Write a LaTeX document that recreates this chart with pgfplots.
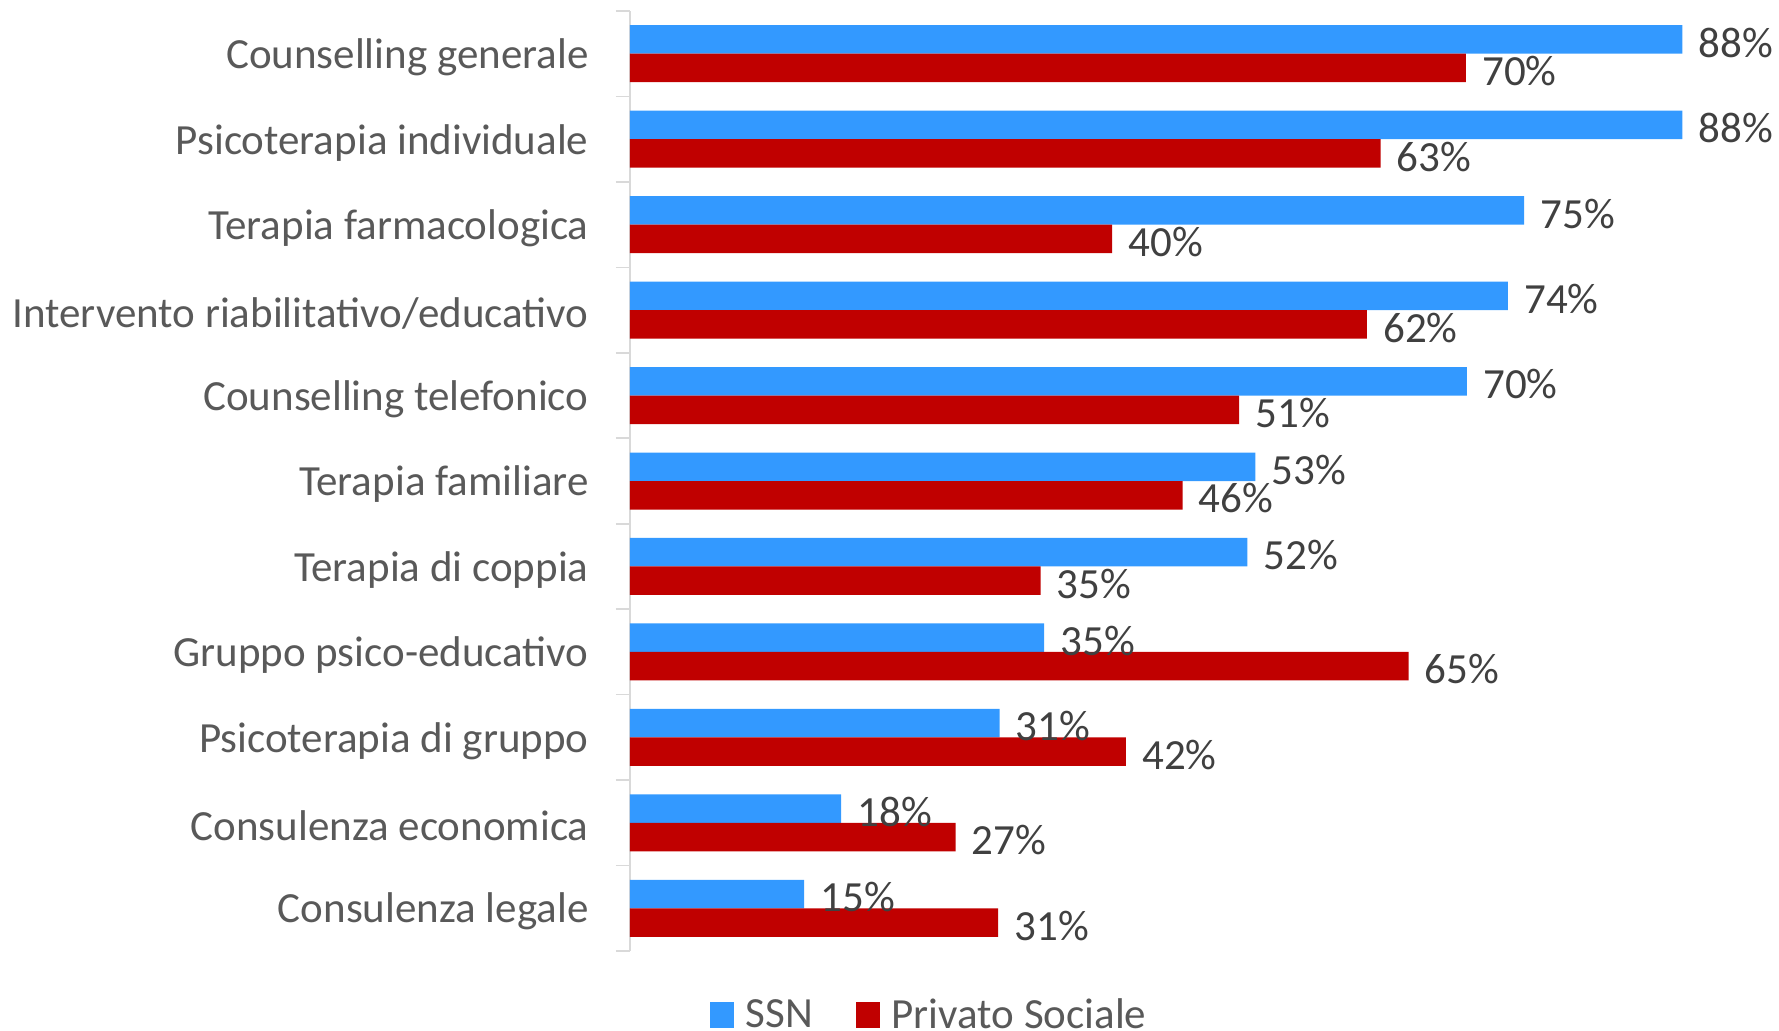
\documentclass[border=0pt]{standalone}
\usepackage{fontspec}
\setmainfont{Carlito}
\usepackage{pgfplots}
\pgfplotsset{compat=1.18}
\definecolor{ssnblue}{HTML}{3399FF}
\definecolor{privred}{HTML}{C00000}
\definecolor{labgray}{HTML}{595959}
\definecolor{valgray}{HTML}{404040}
\definecolor{axgray}{HTML}{D9D9D9}
\begin{document}
\begin{tikzpicture}
\begin{axis}[
  at={(0,0)}, anchor=south west,
  scale only axis,
  width=538.2pt, height=470pt,
  xmin=0, xmax=90,
  ymin=-0.5, ymax=10.5,
  xbar, bar width=14.25pt,
  clip=false,
  axis x line=none,
  axis y line=left,
  y axis line style={-, draw=axgray, line width=0.8pt},
  ytick={0,...,10},
  yticklabels={Consulenza legale, Consulenza economica, Psicoterapia di gruppo, Gruppo psico-educativo, Terapia di coppia, Terapia familiare, Counselling telefonico, Intervento riabilitativo/educativo, Terapia farmacologica, Psicoterapia individuale, Counselling generale},
  minor ytick={-0.5,0.5,...,10.5},
  major tick length=0pt,
  minor tick length=7pt,
  tick align=outside,
  minor tick style={draw=axgray, line width=0.8pt},
  yticklabel style={font=\fontsize{21.5}{25}\selectfont, text=labgray, inner sep=0pt, xshift=-20.5pt, yshift=-1.7pt},
  point meta=explicit symbolic,
  nodes near coords={\pgfplotspointmeta},
  nodes near coords style={font=\fontsize{21.5}{25}\selectfont, text=valgray, anchor=west, inner sep=0pt, xshift=8pt, yshift=-1.6pt},
  legend style={at={(0.279,-0.068)}, anchor=center, draw=none, fill=none,
    font=\fontsize{21.5}{25}\selectfont, text=labgray,
    /tikz/every odd column/.append style={column sep=4pt},
    /tikz/every even column/.append style={column sep=19.5pt}},
  legend columns=2,
  legend image code/.code={\fill[#1] (0pt,-6.5pt) rectangle (11.8pt,6.5pt);},
]
\addplot[fill=ssnblue, draw=none, bar shift=7.125pt] table[meta=lab] {
x y lab
88.0 10 88\%
88.0 9 88\%
74.76 8 75\%
73.4 7 74\%
69.97 6 70\%
52.3 5 53\%
51.63 4 52\%
34.63 3 35\%
30.9 2 31\%
17.66 1 18\%
14.57 0 15\%
};
\addlegendentry{SSN}
\addplot[fill=privred, draw=none, bar shift=-7.125pt] table[meta=lab] {
x y lab
69.9 10 70\%
62.76 9 63\%
40.32 8 40\%
61.61 7 62\%
50.93 6 51\%
46.2 5 46\%
34.33 4 35\%
65.1 3 65\%
41.46 2 42\%
27.22 1 27\%
30.79 0 31\%
};
\addlegendentry{Privato Sociale}
\end{axis}
\pgfresetboundingbox
\path[use as bounding box] (-315pt,-39.5pt) rectangle (574.5pt,475.5pt);
\end{tikzpicture}
\end{document}
